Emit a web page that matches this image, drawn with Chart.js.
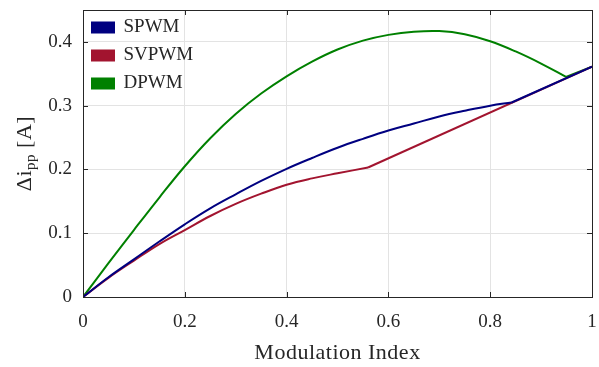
<!DOCTYPE html>
<html>
<head>
<meta charset="utf-8">
<script src="https://cdn.jsdelivr.net/npm/chart.js@4.4.1/dist/chart.umd.min.js"></script>
<style>
  html, body { margin: 0; padding: 0; background: #fff; }
</style>
</head>
<body>
<canvas id="myChart" width="599" height="367"></canvas>
<script>
// values
const seriesNames = ['SPWM', 'SVPWM', 'DPWM']
const seriesColors = ['#000080', '#A2142F', '#008000']

const spwmIndex = [0, 0.05, 0.1, 0.15, 0.2, 0.25, 0.3, 0.35, 0.4, 0.45, 0.5, 0.55, 0.6, 0.65, 0.7, 0.75, 0.8, 0.842, 1]
const spwmRipple = [0, 0.031, 0.059, 0.087, 0.114, 0.139, 0.161, 0.182, 0.201, 0.218, 0.234, 0.248, 0.261, 0.272, 0.283, 0.292, 0.3, 0.305, 0.361]
const spwmKink = 17

const svpwmIndex = [0, 0.05, 0.1, 0.15, 0.2, 0.25, 0.3, 0.35, 0.4, 0.45, 0.5, 0.56, 1]
const svpwmRipple = [0, 0.03, 0.057, 0.083, 0.105, 0.127, 0.146, 0.162, 0.176, 0.186, 0.194, 0.203, 0.361]
const svpwmKink = 11

const dpwmIndex = [0, 0.05, 0.1, 0.15, 0.2, 0.25, 0.3, 0.35, 0.4, 0.45, 0.5, 0.55, 0.6, 0.65, 0.7, 0.75, 0.8, 0.85, 0.9, 0.949, 1]
const dpwmRipple = [0, 0.053, 0.105, 0.156, 0.205, 0.249, 0.287, 0.319, 0.346, 0.369, 0.388, 0.402, 0.411, 0.416, 0.417, 0.412, 0.401, 0.385, 0.366, 0.345, 0.361]
const dpwmKink = 19

const xTicks = [0, 0.2, 0.4, 0.6, 0.8, 1]
const yTicks = [0, 0.1, 0.2, 0.3, 0.4]

const fontFamily = "'Liberation Serif', serif"
const textColor = '#262626'
const legendShift = 9

const toPoints = (xs, ys) => xs.map((x, i) => ({ x: x, y: ys[i] }))

// each series = smooth part up to its kink + straight tail after it
const makeSets = (i, xs, ys, k) => [
  {
    label: seriesNames[i],
    data: toPoints(xs.slice(0, k + 1), ys.slice(0, k + 1)),
    borderColor: seriesColors[i],
    backgroundColor: seriesColors[i],
    borderWidth: 2,
    pointRadius: 0,
    tension: 0.4
  },
  {
    label: seriesNames[i] + ' tail',
    data: toPoints(xs.slice(k), ys.slice(k)),
    borderColor: seriesColors[i],
    backgroundColor: seriesColors[i],
    borderWidth: 2,
    pointRadius: 0,
    tension: 0
  }
]

// box around the plot and inward ticks, like the original figure
const boxPlugin = {
  id: 'box',
  afterLayout(chart) {
    chart.legend.top += legendShift
    chart.legend.bottom += legendShift
  },
  afterDraw(chart) {
    const { ctx, chartArea: a, scales } = chart
    ctx.save()
    ctx.strokeStyle = textColor
    ctx.lineWidth = 1
    ctx.beginPath()
    xTicks.forEach((t) => {
      const px = Math.round(scales.x.getPixelForValue(t)) + 0.5
      ctx.moveTo(px, a.bottom); ctx.lineTo(px, a.bottom - 5)
      ctx.moveTo(px, a.top); ctx.lineTo(px, a.top + 5)
    })
    yTicks.forEach((t) => {
      const py = Math.round(scales.y.getPixelForValue(t)) + 0.5
      ctx.moveTo(a.left, py); ctx.lineTo(a.left + 5, py)
      ctx.moveTo(a.right, py); ctx.lineTo(a.right - 5, py)
    })
    ctx.stroke()
    ctx.strokeRect(Math.round(a.left) + 0.5, Math.round(a.top) + 0.5, Math.round(a.right - a.left), Math.round(a.bottom - a.top))

    // axis titles
    ctx.fillStyle = textColor
    ctx.textBaseline = 'alphabetic'
    ctx.textAlign = 'center'
    ctx.letterSpacing = '0.5px'
    ctx.font = '22px ' + fontFamily
    ctx.fillText('Modulation Index', (a.left + a.right) / 2, 359)

    ctx.translate(31, (a.top + a.bottom) / 2)
    ctx.rotate(-Math.PI / 2)
    const big = '22px ' + fontFamily
    const small = '15px ' + fontFamily
    ctx.font = big
    const w1 = ctx.measureText('\u0394i').width
    const w3 = ctx.measureText(' [A]').width
    ctx.font = small
    const w2 = ctx.measureText('pp').width
    let x = -(w1 + w2 + w3) / 2
    ctx.textAlign = 'left'
    ctx.font = big
    ctx.fillText('\u0394i', x, 0)
    x += w1
    ctx.font = small
    ctx.fillText('pp', x, 4)
    x += w2
    ctx.font = big
    ctx.fillText(' [A]', x, 0)
    ctx.restore()
  }
}

const tickLabel = (v) => String(Math.round(v * 10) / 10)

const config = {
  type: 'line',
  data: {
    datasets: [
      ...makeSets(0, spwmIndex, spwmRipple, spwmKink),
      ...makeSets(1, svpwmIndex, svpwmRipple, svpwmKink),
      ...makeSets(2, dpwmIndex, dpwmRipple, dpwmKink)
    ]
  },
  options: {
    responsive: false,
    animation: false,
    devicePixelRatio: 1,
    layout: { padding: { top: 10, right: 7, left: 0, bottom: 0 } },
    scales: {
      x: {
        type: 'linear',
        min: 0,
        max: 1,
        afterBuildTicks: (s) => { s.ticks = xTicks.map((v) => ({ value: v })) },
        afterFit: (s) => { s.height = 70; s.paddingLeft = 0; s.paddingRight = 0 },
        ticks: {
          padding: 14,
          color: textColor,
          font: { family: fontFamily, size: 19 },
          maxRotation: 0,
          callback: tickLabel
        },
        grid: { color: '#e3e3e3', drawTicks: false },
        border: { display: false }
      },
      y: {
        type: 'linear',
        min: 0,
        max: 0.45,
        afterBuildTicks: (s) => { s.ticks = yTicks.map((v) => ({ value: v })) },
        afterFit: (s) => { s.width = 83; s.paddingTop = 0; s.paddingBottom = 0 },
        ticks: {
          padding: 11,
          color: textColor,
          font: { family: fontFamily, size: 19 },
          callback: tickLabel
        },
        grid: { color: '#e3e3e3', drawTicks: false },
        border: { display: false }
      }
    },
    plugins: {
      legend: {
        position: 'chartArea',
        align: 'start',
        labels: {
          boxWidth: 22,
          boxHeight: 10,
          padding: 9,
          color: textColor,
          font: { family: fontFamily, size: 19 },
          filter: (item) => item.datasetIndex % 2 === 0
        },
        onClick: null
      },
      tooltip: { enabled: false }
    }
  },
  plugins: [boxPlugin]
}

const myChart = new Chart(document.getElementById('myChart'), config)
</script>
</body>
</html>
